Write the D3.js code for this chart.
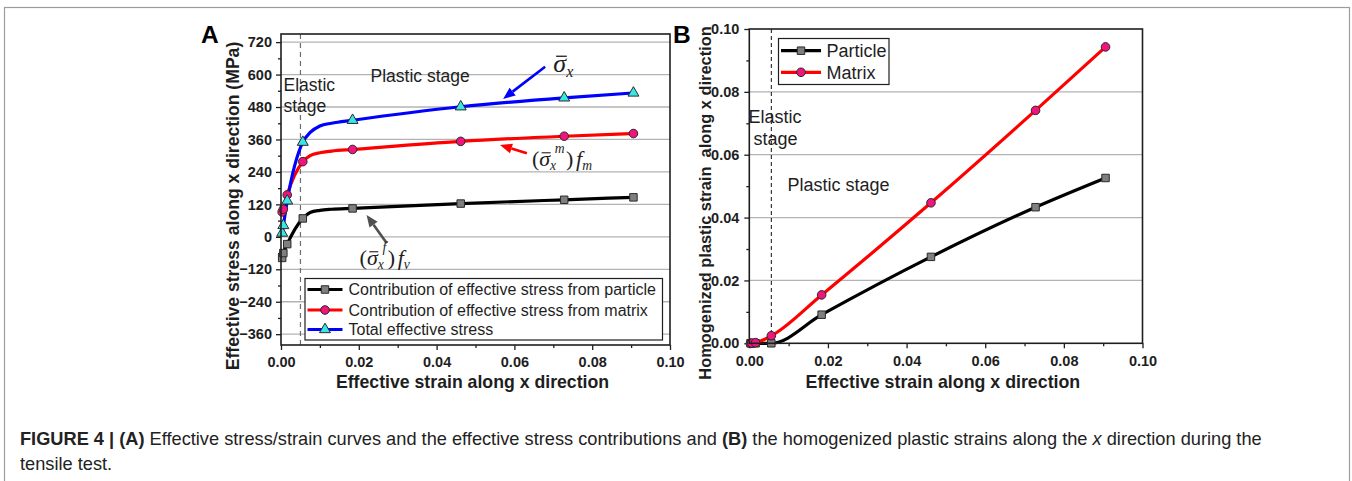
<!DOCTYPE html>
<html>
<head>
<meta charset="utf-8">
<script src="https://cdn.jsdelivr.net/npm/d3@7"></script>
<style>
  html, body { margin: 0; padding: 0; background: #fff; }
  svg { display: block; }
</style>
</head>
<body>
<svg id="fig" width="1352" height="481"></svg>
<script>
// ---- data ----
// Effective strain at the sampled (marked) states, shared by both panels
const strain = [0.0003, 0.0006, 0.0016, 0.0056, 0.0184, 0.0462, 0.0728, 0.0906];
// Panel A: effective stress contributions (MPa)
const stressParticle = [-78, -60, -27, 68, 105, 123, 137, 146];
const stressMatrix   = [92, 102, 155, 278, 323, 353, 372, 382];
const stressTotal    = [14, 42, 133, 350, 431, 481, 514, 532];
// Extra curve states around the yield knee (drawn as line only, no symbol)
const kneeStrain   = [0.0075, 0.0100, 0.0130];
const kneeParticle = [90, 98, 102];
const kneeMatrix   = [300, 311, 317];
const kneeTotal    = [386, 410, 420];
// Panel B: homogenized plastic strain along x
const plasticParticle = [0, 0, 0, 0, 0.0091, 0.0275, 0.0433, 0.0526];
const plasticMatrix   = [0, 0.0001, 0.0002, 0.0024, 0.0154, 0.0447, 0.0741, 0.0943];
// Tick values
const strainTicks  = [0, 0.02, 0.04, 0.06, 0.08, 0.10];
const strainMinor  = [0.01, 0.03, 0.05, 0.07, 0.09];
const stressTicks  = [-360, -240, -120, 0, 120, 240, 360, 480, 600, 720];
const stressMinor  = [-300, -180, -60, 60, 180, 300, 420, 540, 660];
const plasticTicks = [0, 0.02, 0.04, 0.06, 0.08, 0.10];
const plasticMinor = [0.01, 0.03, 0.05, 0.07, 0.09];
// Elastic/plastic boundary strain
const yieldStrainA = 0.0050;
const yieldStrainB = 0.0056;

// ---- styling ----
const SANS = '"Liberation Sans", Arial, Helvetica, sans-serif';
const SERIF = '"Liberation Serif", "Times New Roman", serif';
const INK = "#1e1e1e";
const GRID = "#b3b3b3";
const C_PART = "#000000", C_MAT = "#ff0000", C_TOT = "#0000ff";
const F_SQ = "#7f7f7f", F_CI = "#f0147c", F_TR = "#38e6e6";

const svg = d3.select("#fig");

// outer figure frame (open at the bottom edge of the view)
svg.append("rect")
  .attr("x", 4.5).attr("y", 7.5).attr("width", 1345).attr("height", 540)
  .attr("fill", "none").attr("stroke", "#9d9d9d").attr("stroke-width", 1.2);

const fmt2 = d3.format(".2f");
const fmt0 = d3.format("d");

function drawFrame(g, x, y, xT, xM, yT, yM, xFmt, yFmt, yLabelPad) {
  const [x0, x1] = x.range();
  const [y0, y1] = y.range();
  // horizontal grid
  g.append("g").selectAll("line").data(yT.filter(v => y(v) > y1 + 1 && y(v) < y0 - 1)).join("line")
    .attr("x1", x0).attr("x2", x1)
    .attr("y1", d => y(d)).attr("y2", d => y(d))
    .attr("stroke", GRID).attr("stroke-width", 1.3);

  const styleAxis = sel => {
    sel.select(".domain").remove();
    sel.selectAll(".tick line").attr("stroke", INK).attr("stroke-width", 1.3);
    sel.selectAll(".tick text")
      .attr("fill", INK)
      .style("font-family", SANS).style("font-weight", "bold").style("font-size", "14.5px");
  };
  g.append("g").attr("transform", `translate(0,${y0})`)
    .call(d3.axisBottom(x).tickValues(xT).tickSize(5).tickPadding(7).tickFormat(xFmt)).call(styleAxis);
  g.append("g").attr("transform", `translate(0,${y0})`)
    .call(d3.axisBottom(x).tickValues(xM).tickSize(3).tickFormat("")).call(styleAxis);
  g.append("g").attr("transform", `translate(${x0},0)`)
    .call(d3.axisLeft(y).tickValues(yT).tickSize(5).tickPadding(yLabelPad).tickFormat(yFmt)).call(styleAxis);
  g.append("g").attr("transform", `translate(${x0},0)`)
    .call(d3.axisLeft(y).tickValues(yM).tickSize(3).tickFormat("")).call(styleAxis);
}

function box(g, x, y) {
  const [x0, x1] = x.range();
  const [y0, y1] = y.range();
  g.append("rect").attr("x", x0).attr("y", y1).attr("width", x1 - x0).attr("height", y0 - y1)
    .attr("fill", "none").attr("stroke", INK).attr("stroke-width", 1.6);
}

function pairs(xs, ys) { return xs.map((v, i) => [v, ys[i]]); }

function symbolPath(kind) {
  if (kind === "square") return d3.symbol(d3.symbolSquare, 56)();
  if (kind === "circle") return d3.symbol(d3.symbolCircle, 58)();
  return d3.symbol(d3.symbolTriangle, 52)();
}

function drawSeries(g, x, y, linePts, markPts, color, kind, fill, lw) {
  const line = d3.line().x(d => x(d[0])).y(d => y(d[1])).curve(d3.curveMonotoneX);
  g.append("path").datum(linePts).attr("d", line)
    .attr("fill", "none").attr("stroke", color).attr("stroke-width", lw)
    .attr("stroke-linejoin", "round").attr("stroke-linecap", "round");
  return () => {
    g.append("g").selectAll("path").data(markPts).join("path")
      .attr("d", symbolPath(kind))
      .attr("transform", d => `translate(${x(d[0])},${y(d[1])})`)
      .attr("fill", fill).attr("stroke", "#2a2a2a").attr("stroke-width", 1);
  };
}

function arrow(g, x1, y1, x2, y2, color, lw, headLen, headW) {
  const ang = Math.atan2(y2 - y1, x2 - x1);
  const bx = x2 - headLen * Math.cos(ang), by = y2 - headLen * Math.sin(ang);
  g.append("line").attr("x1", x1).attr("y1", y1).attr("x2", bx).attr("y2", by)
    .attr("stroke", color).attr("stroke-width", lw);
  const nx = -Math.sin(ang) * headW / 2, ny = Math.cos(ang) * headW / 2;
  g.append("polygon")
    .attr("points", `${x2},${y2} ${bx + nx},${by + ny} ${bx - nx},${by - ny}`)
    .attr("fill", color);
}

function plainText(g, x, y, str, size) {
  return g.append("text").attr("x", x).attr("y", y).text(str)
    .attr("fill", INK).style("font-family", SANS).style("font-size", size + "px");
}

// math label: (σ̄_x^sup) f_sub   or   σ̄_x ; the bar over σ is drawn as a stroke
function mathLabel(g, x, y, size, sup, fsub) {
  const t = g.append("text").attr("x", x).attr("y", y)
    .attr("fill", INK).style("font-family", SERIF).style("font-size", size + "px");
  const small = Math.round(size * 0.62 * 10) / 10;
  let sigmaIndex = 0;
  if (sup) { t.append("tspan").text("("); sigmaIndex = 1; }
  t.append("tspan").style("font-style", "italic").text("\u03C3");
  t.append("tspan").style("font-style", "italic").style("font-size", small + "px")
    .attr("dy", size * 0.2).text("x");
  if (sup) {
    t.append("tspan").style("font-style", "italic").style("font-size", small + "px")
      .attr("dx", -small * 0.1).attr("dy", -size * 0.8).text(sup);
    t.append("tspan").attr("dx", 1.5).attr("dy", size * 0.6).text(")");
    t.append("tspan").style("font-style", "italic").attr("dx", size * 0.12).text("f");
    t.append("tspan").style("font-style", "italic").style("font-size", small + "px")
      .attr("dy", size * 0.2).text(fsub);
  }
  const ext = t.node().getExtentOfChar(sigmaIndex);
  g.append("line")
    .attr("x1", ext.x + ext.width * 0.22).attr("x2", ext.x + ext.width * 1.05)
    .attr("y1", y - size * 0.6).attr("y2", y - size * 0.6)
    .attr("stroke", INK).attr("stroke-width", size * 0.05);
  return t;
}

// ================= Panel A =================
const xA = d3.scaleLinear().domain([0, 0.1]).range([281, 670]);
const yA = d3.scaleLinear().domain([-400, 750]).range([345, 34]);
const gA = svg.append("g");

drawFrame(gA, xA, yA, strainTicks, strainMinor, stressTicks, stressMinor, fmt2, fmt0, 4);

// elastic / plastic boundary
gA.append("line")
  .attr("x1", xA(yieldStrainA)).attr("x2", xA(yieldStrainA))
  .attr("y1", yA(750)).attr("y2", yA(-400))
  .attr("stroke", "#6e6e6e").attr("stroke-width", 1.2).attr("stroke-dasharray", "5,4");

const withKnee = (ys, ky) => pairs(strain, ys).concat(pairs(kneeStrain, ky)).sort((a, b) => a[0] - b[0]);

const mA1 = drawSeries(gA, xA, yA, withKnee(stressParticle, kneeParticle), pairs(strain, stressParticle), C_PART, "square", F_SQ, 3.2);
const mA2 = drawSeries(gA, xA, yA, withKnee(stressMatrix, kneeMatrix), pairs(strain, stressMatrix), C_MAT, "circle", F_CI, 3.2);
const mA3 = drawSeries(gA, xA, yA, withKnee(stressTotal, kneeTotal), pairs(strain, stressTotal), C_TOT, "triangle", F_TR, 3.2);
mA1(); mA2(); mA3();

box(gA, xA, yA);

// stage annotations
plainText(gA, 283.5, 91, "Elastic", 17.5);
plainText(gA, 283.5, 112, "stage", 17.5);
plainText(gA, 370.5, 81.5, "Plastic stage", 17.5);

// curve call-outs (positions in data units)
const calloutA = [
  { from: [0.0679, 629], to: [0.0571, 510], color: "#0000ff" },
  { from: [0.0632, 309], to: [0.0563, 340], color: "#ff0000" },
  { from: [0.0272, -24], to: [0.0220, 81], color: "#505050" }
];
calloutA.forEach(c => arrow(gA, xA(c.from[0]), yA(c.from[1]), xA(c.to[0]), yA(c.to[1]), c.color, 2.6, 12, 10));

mathLabel(gA, xA(0.0700), yA(610), 26, null, null);
mathLabel(gA, xA(0.0645), yA(262), 22, "m", "m");
mathLabel(gA, xA(0.0202), yA(-104), 22, "f", "v");

// legend A
const legA = gA.append("g");
legA.append("rect").attr("x", 305).attr("y", 278.5).attr("width", 357.5).attr("height", 61.5)
  .attr("fill", "#fff").attr("stroke", INK).attr("stroke-width", 1.2);
const legendA = [
  { label: "Contribution of effective stress from particle", color: C_PART, kind: "square", fill: F_SQ },
  { label: "Contribution of effective stress from matrix", color: C_MAT, kind: "circle", fill: F_CI },
  { label: "Total effective stress", color: C_TOT, kind: "triangle", fill: F_TR }
];
const legRowsA = [289.5, 310, 329.5];
legendA.forEach((d, i) => {
  const yy = legRowsA[i];
  legA.append("line").attr("x1", 307.5).attr("x2", 342.5).attr("y1", yy).attr("y2", yy)
    .attr("stroke", d.color).attr("stroke-width", 3.2);
  legA.append("path").attr("d", symbolPath(d.kind)).attr("transform", `translate(325,${yy})`)
    .attr("fill", d.fill).attr("stroke", "#2a2a2a").attr("stroke-width", 1);
  legA.append("text").attr("x", 348.5).attr("y", yy).attr("dy", "0.36em").text(d.label)
    .attr("fill", INK).style("font-family", SANS).style("font-size", "16px");
});

// axis titles A
gA.append("text").attr("x", (xA(0) + xA(0.1)) / 2 - 3).attr("y", 388).attr("text-anchor", "middle")
  .text("Effective strain along x direction")
  .attr("fill", INK).style("font-family", SANS).style("font-weight", "bold").style("font-size", "17.7px");
gA.append("text").attr("transform", "translate(238.5,206) rotate(-90)").attr("text-anchor", "middle")
  .text("Effective stress along x direction (MPa)")
  .attr("fill", INK).style("font-family", SANS).style("font-weight", "bold").style("font-size", "17.6px");

gA.append("text").attr("x", 201).attr("y", 42.5).text("A")
  .attr("fill", "#000").style("font-family", SANS).style("font-weight", "bold").style("font-size", "24.5px");

// ================= Panel B =================
const xB = d3.scaleLinear().domain([0, 0.1]).range([749.3, 1142.5]);
const yB = d3.scaleLinear().domain([0, 0.1]).range([343.3, 29]);
const gB = svg.append("g");

drawFrame(gB, xB, yB, strainTicks, strainMinor, plasticTicks, plasticMinor, fmt2, fmt2, 5);

gB.append("line")
  .attr("x1", xB(yieldStrainB)).attr("x2", xB(yieldStrainB))
  .attr("y1", yB(0.1)).attr("y2", yB(0))
  .attr("stroke", "#111").attr("stroke-width", 1).attr("stroke-dasharray", "4,3");

const mB1 = drawSeries(gB, xB, yB, pairs(strain, plasticParticle), pairs(strain, plasticParticle), C_PART, "square", F_SQ, 3.2);
const mB2 = drawSeries(gB, xB, yB, pairs(strain, plasticMatrix), pairs(strain, plasticMatrix), C_MAT, "circle", F_CI, 3.2);
mB1(); mB2();

box(gB, xB, yB);

plainText(gB, 748.5, 122.5, "Elastic", 18);
plainText(gB, 753.5, 144.5, "stage", 18);
plainText(gB, 787.5, 191, "Plastic stage", 18);

// legend B
const legB = gB.append("g");
legB.append("rect").attr("x", 778.5).attr("y", 38.5).attr("width", 110.5).attr("height", 46)
  .attr("fill", "#fff").attr("stroke", INK).attr("stroke-width", 1.2);
const legendB = [
  { label: "Particle", color: C_PART, kind: "square", fill: F_SQ },
  { label: "Matrix", color: C_MAT, kind: "circle", fill: F_CI }
];
const legRowsB = [50.7, 72.3];
legendB.forEach((d, i) => {
  const yy = legRowsB[i];
  legB.append("line").attr("x1", 781).attr("x2", 821).attr("y1", yy).attr("y2", yy)
    .attr("stroke", d.color).attr("stroke-width", 3.2);
  legB.append("path").attr("d", symbolPath(d.kind)).attr("transform", `translate(801,${yy})`)
    .attr("fill", d.fill).attr("stroke", "#2a2a2a").attr("stroke-width", 1);
  legB.append("text").attr("x", 826.5).attr("y", yy).attr("dy", "0.36em").text(d.label)
    .attr("fill", INK).style("font-family", SANS).style("font-size", "18px");
});

gB.append("text").attr("x", (xB(0) + xB(0.1)) / 2 - 3).attr("y", 388).attr("text-anchor", "middle")
  .text("Effective strain along x direction")
  .attr("fill", INK).style("font-family", SANS).style("font-weight", "bold").style("font-size", "17.8px");
gB.append("text").attr("transform", "translate(710.5,203) rotate(-90)").attr("text-anchor", "middle")
  .attr("xml:space", "preserve").style("white-space", "pre")
  .text("Homogenized plastic strain  along x direction")
  .attr("fill", INK).style("font-family", SANS).style("font-weight", "bold").style("font-size", "16.4px");

gB.append("text").attr("x", 673).attr("y", 42.5).text("B")
  .attr("fill", "#000").style("font-family", SANS).style("font-weight", "bold").style("font-size", "24.5px");

// ================= Caption =================
const cap = svg.append("g");
const capSize = "17.5px";
const line1 = cap.append("text").attr("x", 20).attr("y", 445)
  .attr("fill", "#222").style("font-family", SANS).style("font-size", capSize)
  .attr("xml:space", "preserve").style("white-space", "pre");
[
  ["FIGURE 4 | (A)", "bold", "normal"],
  [" Effective stress/strain curves and the effective stress contributions and ", "normal", "normal"],
  ["(B)", "bold", "normal"],
  [" the homogenized plastic strains along the ", "normal", "normal"],
  ["x", "normal", "italic"],
  [" direction during the", "normal", "normal"]
].forEach(([s, w, st]) => line1.append("tspan").style("font-weight", w).style("font-style", st).text(s));
const line2 = cap.append("text").attr("x", 20).attr("y", 470)
  .attr("fill", "#222").style("font-family", SANS).style("font-size", capSize)
  .text("tensile test.");
const natural = line1.node().getComputedTextLength();
const sx = (1262 - 20) / natural;
[line1, line2].forEach(t => t.attr("transform", `translate(20,0) scale(${sx},1) translate(-20,0)`));
</script>
</body>
</html>
